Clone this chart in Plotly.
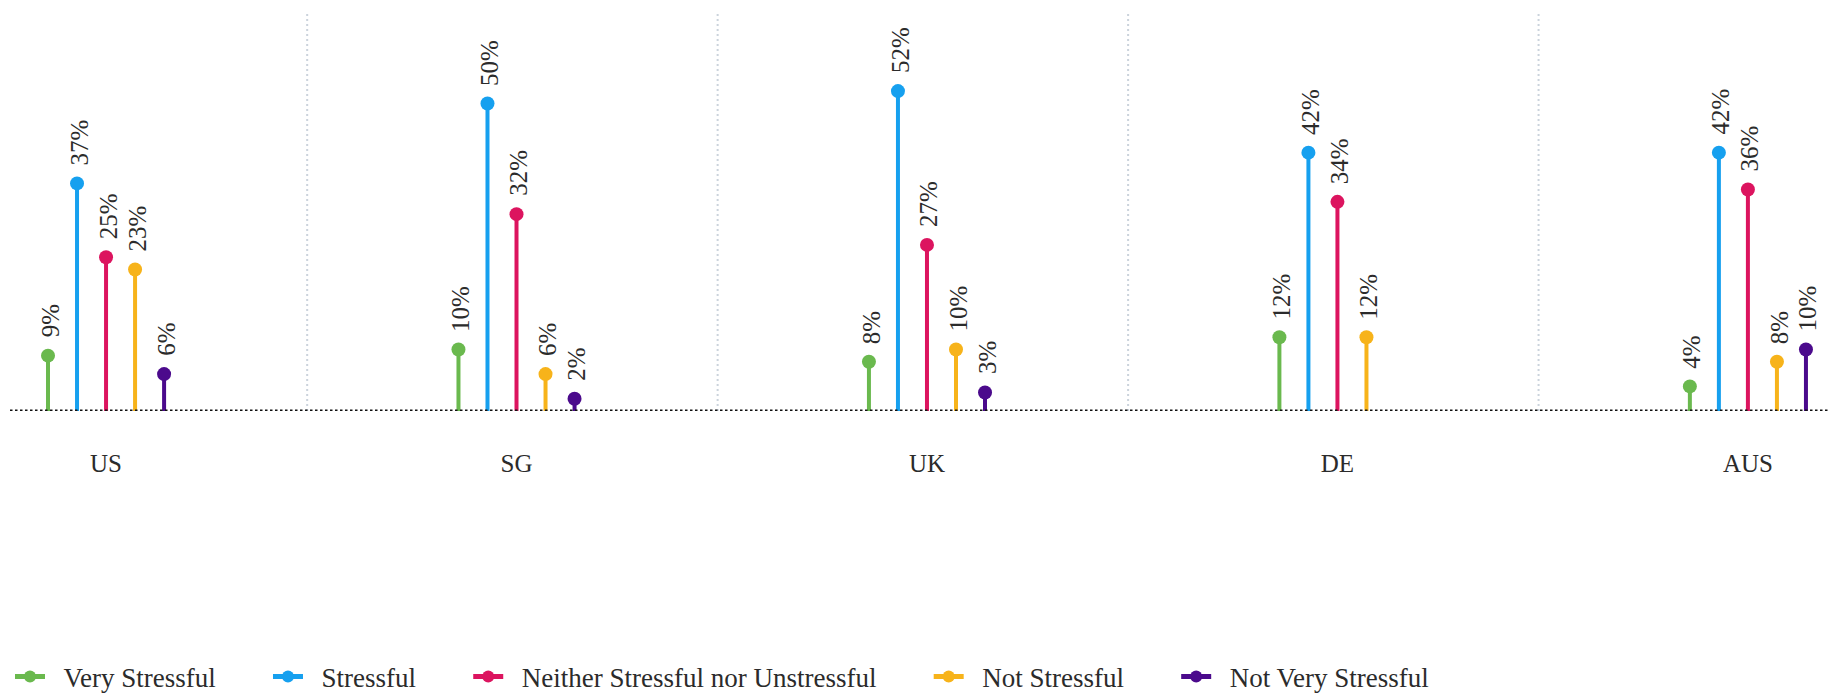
import plotly.graph_objects as go

categories = ["US", "SG", "UK", "DE", "AUS"]
series_names = ["Very Stressful", "Stressful", "Neither Stressful nor Unstressful",
                "Not Stressful", "Not Very Stressful"]
very_stressful = [9, 10, 8, 12, 4]
stressful = [37, 50, 52, 42, 42]
neither = [25, 32, 27, 34, 36]
not_stressful = [23, 6, 10, 12, 8]
not_very_stressful = [6, 2, 3, None, 10]
colors = ["#6ab94e", "#16a0ef", "#dc145f", "#f7b31a", "#4b0a8c"]

all_series = [very_stressful, stressful, neither, not_stressful, not_very_stressful]
offsets = [-0.1414, -0.0707, 0.0, 0.0707, 0.1414]

FONT = "Liberation Serif"
TEXT = "#2b2b2b"
NB = "\u00a0"

fig = go.Figure()
annotations = []
for name, vals, col, off in zip(series_names, all_series, colors, offsets):
    xs, ys, sizes = [], [], []
    for i, v in enumerate(vals):
        if v is None:
            continue
        xs += [i + off, i + off, None]
        ys += [0, v, None]
        sizes += [0, 14, 0]
        annotations.append(dict(
            x=i + off, y=v, xref="x", yref="y", text=f"{v}%", showarrow=False,
            textangle=-90, yanchor="bottom", xanchor="center", yshift=16, xshift=2,
            font=dict(family=FONT, size=25, color=TEXT)))
    fig.add_trace(go.Scatter(
        x=xs, y=ys, mode="lines+markers", name=NB * 2 + name + NB * 7,
        line=dict(color=col, width=4),
        marker=dict(color=col, size=sizes, opacity=1, line=dict(width=0)),
        hoverinfo="skip", cliponaxis=False))

shapes = []
for k in range(len(categories) - 1):
    shapes.append(dict(type="line", xref="x", yref="paper", x0=k + 0.49, x1=k + 0.49,
                       y0=0, y1=1.005, line=dict(color="#cbd3dc", width=2, dash="2px,3px"),
                       layer="below"))
shapes.append(dict(type="line", xref="paper", yref="y", x0=0, x1=1, y0=0, y1=0,
                   line=dict(color="#111111", width=3, dash="2.5px,2.5px"), layer="above"))

fig.update_layout(
    width=1830, height=695,
    margin=dict(l=10, r=0, t=13, b=284, autoexpand=False),
    paper_bgcolor="white", plot_bgcolor="white",
    font=dict(family=FONT, color=TEXT),
    xaxis=dict(range=[-0.234, 4.2], tickvals=list(range(len(categories))),
               ticktext=categories, showgrid=False, zeroline=False, showline=False,
               ticks="", tickfont=dict(family=FONT, size=25, color=TEXT),
               ticklabelstandoff=35, fixedrange=True, automargin=False),
    yaxis=dict(range=[0, 64.7], showgrid=False, zeroline=False, showline=False,
               showticklabels=False, ticks="", fixedrange=True, automargin=False),
    showlegend=True,
    legend=dict(orientation="h", x=0, xanchor="left", y=-0.668, yanchor="middle",
                font=dict(family=FONT, size=27, color=TEXT), itemsizing="constant",
                bgcolor="rgba(0,0,0,0)"),
    shapes=shapes,
    annotations=annotations,
)

fig.write_html("out.html")
